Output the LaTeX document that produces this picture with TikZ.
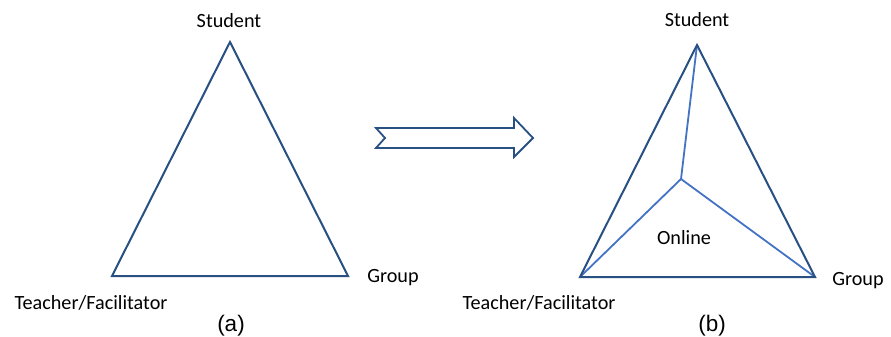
\documentclass[tikz,border=0pt]{standalone}
\usepackage{fontspec}
\setmainfont{Carlito}
\newfontfamily\arialf{Liberation Sans}
\definecolor{dkblue}{RGB}{40,80,130}
\definecolor{ltblue}{RGB}{68,114,196}
\begin{document}
\begin{tikzpicture}[x=1pt,y=-1pt,
  tri/.style={draw=dkblue,line width=2pt,line join=miter},
  inner/.style={draw=ltblue,line width=1.8pt},
  lbl/.style={font=\fontsize{20.2}{24}\selectfont,inner sep=0pt},
  captext/.style={font=\arialf\fontsize{22.5}{26}\selectfont,inner sep=0pt}]
\useasboundingbox[fill=white] (0,0) rectangle (891,337);
% (a)
\coordinate (aS) at (230,42);
\coordinate (aT) at (112,276);
\coordinate (aG) at (348,276);
\draw[tri] (aS) -- (aT) -- (aG) -- cycle;
\node[lbl] (laS) at (229,21) {Student};
\node[lbl] (laG) at (393,278) {Group};
\node[lbl] (laT) at (91,303) {Teacher/Facilitator};
\node[captext] (capa) at (231,326) {(a)};
% arrow
\draw[tri,line width=1.8pt] (376,128) -- (514,128) -- (514,118) -- (533,138) -- (514,157) -- (514,148) -- (376,148) -- (385,138) -- cycle;
% (b)
\coordinate (bS) at (697,45);
\coordinate (bT) at (580,277);
\coordinate (bG) at (815,277);
\coordinate (bO) at (681,179);
\draw[inner] (bS) -- (bO) (bT) -- (bO) -- (bG);
\draw[tri] (bS) -- (bT) -- (bG) -- cycle;
\node[lbl] (lbS) at (697,20) {Student};
\node[lbl] (lbG) at (858,281) {Group};
\node[lbl] (lbT) at (539,303) {Teacher/Facilitator};
\node[lbl] (lbO) at (684,238) {Online};
\node[captext] (capb) at (712,326) {(b)};
\end{tikzpicture}
\end{document}
